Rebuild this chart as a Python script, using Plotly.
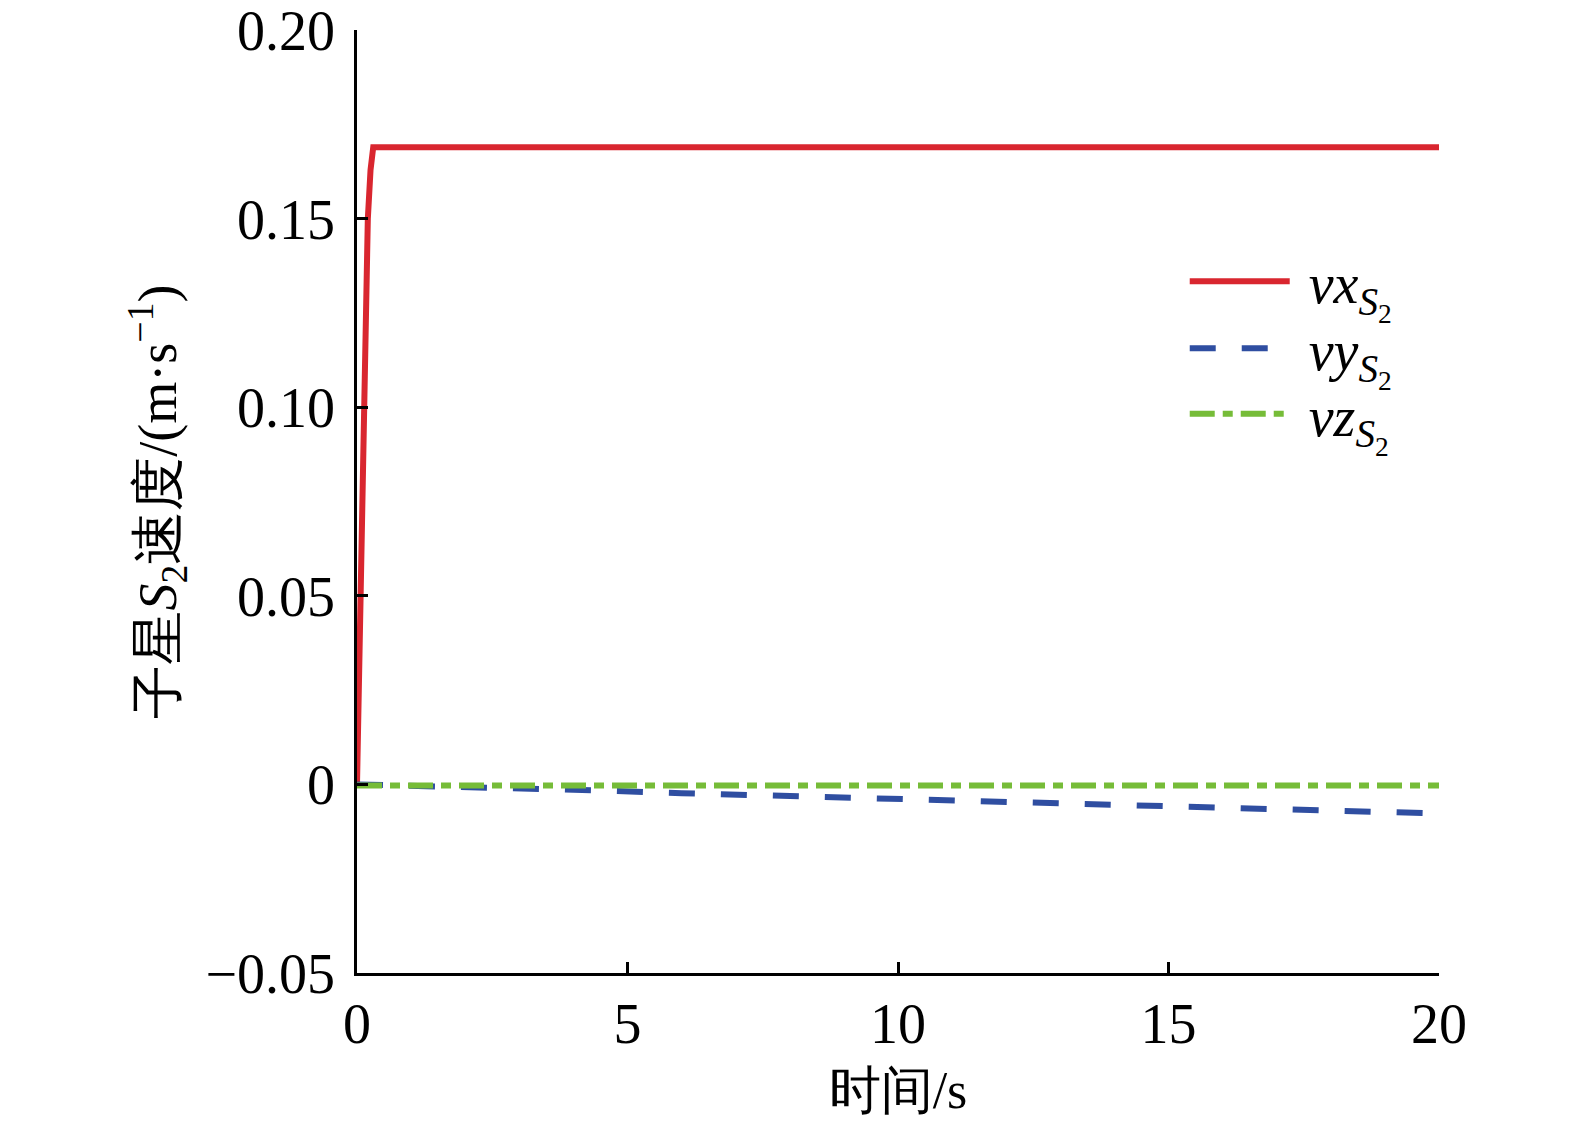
import plotly.graph_objects as go

t_vx = [0, 0.07, 0.15, 0.2, 0.25, 0.3, 5, 10, 15, 20]
vx = [0, 0.05, 0.10, 0.15, 0.163, 0.169, 0.169, 0.169, 0.169, 0.169]

t_vy = [0, 2, 4, 6, 8, 10, 12, 14, 16, 18, 20]
vy = [0, -0.0006, -0.0014, -0.0023, -0.0031, -0.0039, -0.0046, -0.0054, -0.0062, -0.0069, -0.0077]

t_vz = [0, 5, 10, 15, 20]
vz = [-0.0003, -0.0003, -0.0003, -0.0003, -0.0003]

x_ticks = [0, 5, 10, 15, 20]
y_ticks = [-0.05, 0, 0.05, 0.10, 0.15, 0.20]
y_ticklabels = ["\u22120.05", "0", "0.05", "0.10", "0.15", "0.20"]

names = [
    "\u00a0<i>vx</i><sub><i>S</i><sub>2</sub></sub>",
    "\u00a0<i>vy</i><sub><i>S</i><sub>2</sub></sub>",
    "\u00a0<i>vz</i><sub><i>S</i><sub>2</sub></sub>",
]

FONT = "Liberation Serif"

fig = go.Figure()
fig.add_trace(go.Scatter(x=t_vx, y=vx, mode="lines", name=names[0], legend="legend",
                         line=dict(color="#d9262f", width=6)))
fig.add_trace(go.Scatter(x=t_vy, y=vy, mode="lines", name=names[1], legend="legend2",
                         line=dict(color="#2f4ea1", width=6, dash="26px,26px")))
fig.add_trace(go.Scatter(x=t_vz, y=vz, mode="lines", name=names[2], legend="legend3",
                         line=dict(color="#76bc38", width=6, dash="25px,8px,10px,8px")))

axis_common = dict(
    showline=True, linecolor="black", linewidth=2.5,
    ticks="inside", ticklen=11, tickwidth=2.5, tickcolor="black",
    showgrid=False, zeroline=False, mirror=False, automargin=False,
    ticklabeloverflow="allow",
    tickfont=dict(family=FONT, size=56, color="black"),
)

def leg(y):
    return dict(x=0.765, y=y, xanchor="left", yanchor="top",
                bgcolor="rgba(0,0,0,0)", borderwidth=0,
                font=dict(family=FONT, size=56, color="black"),
                itemwidth=100)

fig.update_layout(
    width=1575, height=1128,
    margin=dict(l=349, r=144, t=22, b=163, autoexpand=False),
    paper_bgcolor="white", plot_bgcolor="white",
    font=dict(family=FONT, color="black"),
    showlegend=True,
    legend=leg(0.779),
    legend2=leg(0.708),
    legend3=leg(0.6386),
    xaxis=dict(range=[0, 20], tickvals=x_ticks, ticktext=[str(v) for v in x_ticks],
               title=dict(text="时间/s", font=dict(family=FONT, size=52), standoff=18),
               **axis_common),
    yaxis=dict(range=[-0.05, 0.2001], tickvals=y_ticks, ticktext=y_ticklabels,
               ticklabelstandoff=8,
               title=dict(text="子星<i>S</i><sub>2</sub>速度/(m·s<sup>\u22121</sup>)",
                          font=dict(family=FONT, size=54), standoff=12),
               **axis_common),
)

fig.write_html("out.html")
